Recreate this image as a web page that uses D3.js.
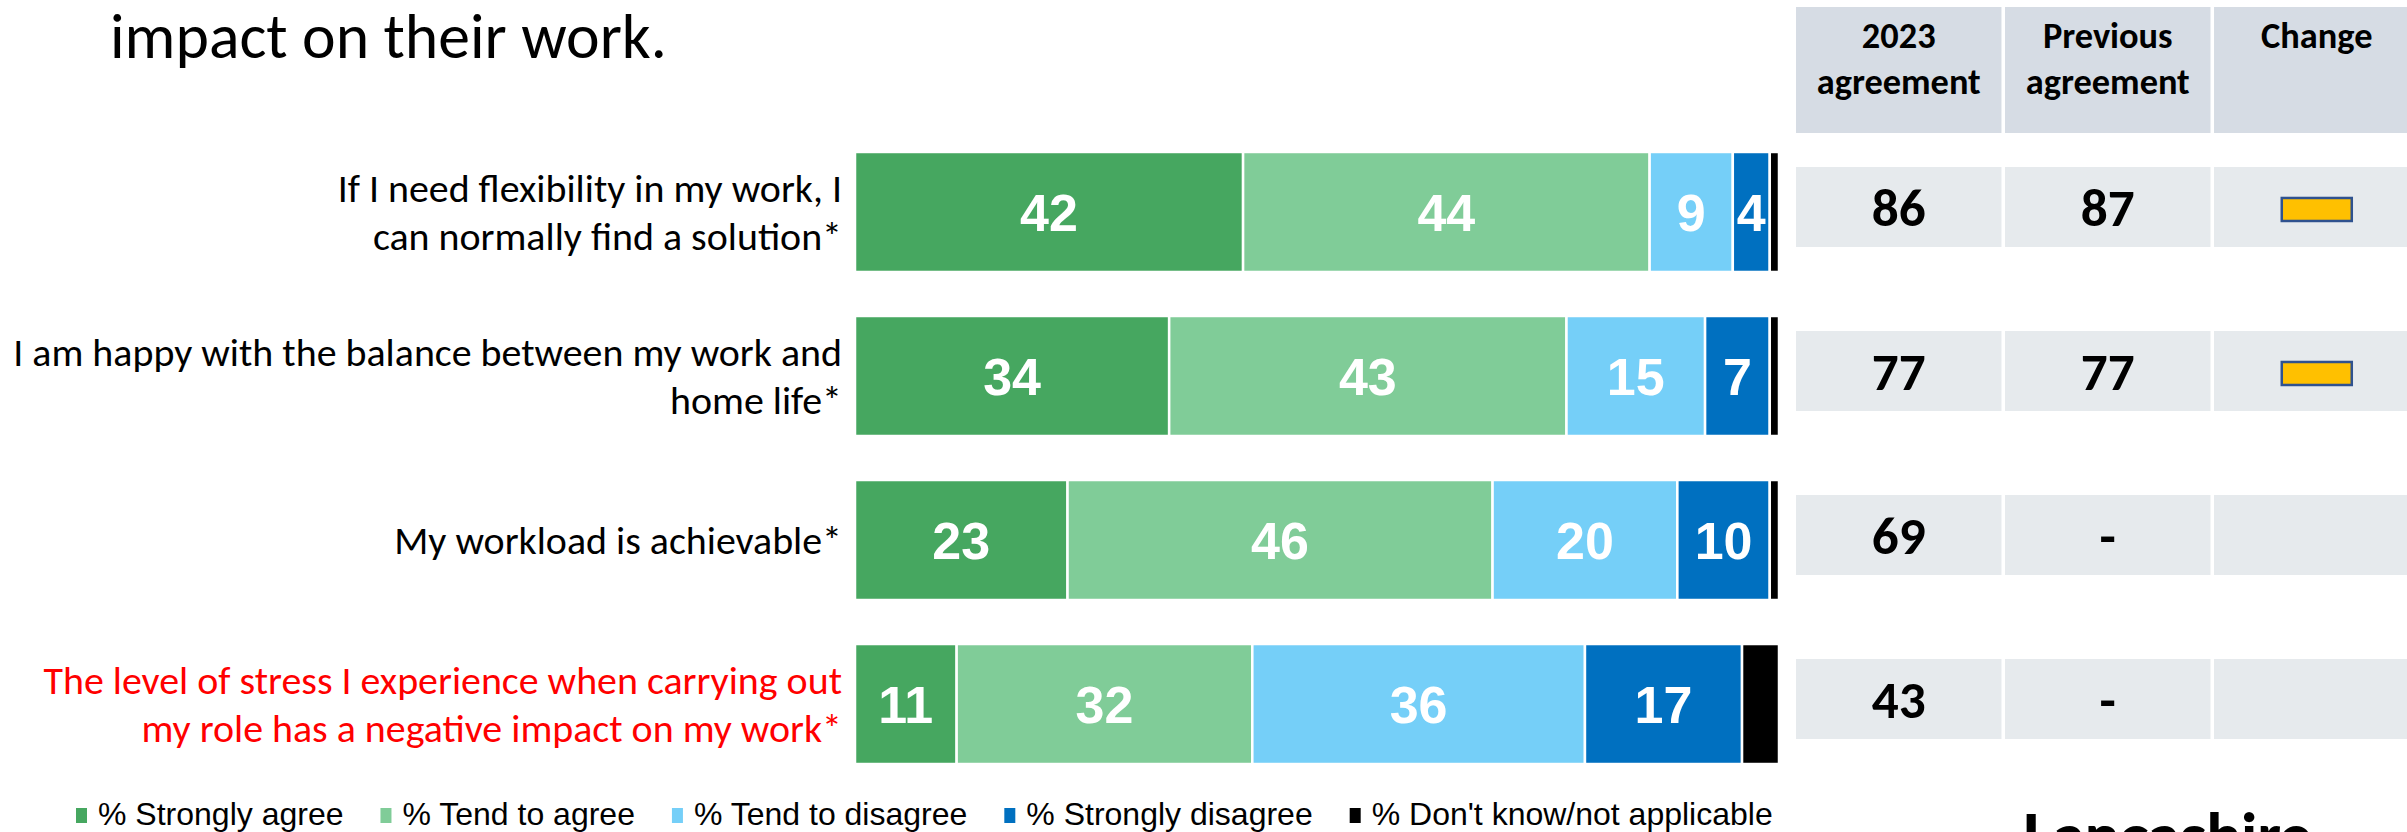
<!DOCTYPE html>
<html>
<head>
<meta charset="utf-8">
<script src="https://cdn.jsdelivr.net/npm/d3@7"></script>
<style>
  html, body { margin: 0; padding: 0; background: #ffffff; }
  svg { display: block; }
</style>
</head>
<body>
<svg id="chart" width="2407" height="832"></svg>
<script>
// ---- data ----
const statements = [
  ["If I need flexibility in my work, I", "can normally find a solution*"],
  ["I am happy with the balance between my work and", "home life*"],
  ["My workload is achievable*"],
  ["The level of stress I experience when carrying out", "my role has a negative impact on my work*"]
];
const highlighted = [false, false, false, true];

const seriesNames = ["% Strongly agree", "% Tend to agree", "% Tend to disagree", "% Strongly disagree", "% Don't know/not applicable"];
const stronglyAgree    = [42, 34, 23, 11];
const tendToAgree      = [44, 43, 46, 32];
const tendToDisagree   = [9, 15, 20, 36];
const stronglyDisagree = [4, 7, 10, 17];
const dontKnow         = [1, 1, 1, 4];

const tableHeaders = [["2023", "agreement"], ["Previous", "agreement"], ["Change"]];
const agreement2023 = [86, 77, 69, 43];
const agreementPrev = ["87", "77", "-", "-"];
const changeFlag    = ["none", "none", "", ""];   // "none" = no significant change marker

const titleLine = "impact on their work.";
const logoText = "Lancashire";

// ---- styles ----
const colors = ["#46a760", "#80cc98", "#75cff8", "#0070c0", "#000000"];
const CAL = "Carlito, Lato, 'Open Sans', sans-serif";
const ARIAL = "'Liberation Sans', Arial, sans-serif";

const svg = d3.select("#chart");
svg.append("rect").attr("width", 2407).attr("height", 832).attr("fill", "#fff");

// helper: font size that makes a string span a given width
function fitSize(txt, family, weight, target) {
  const t = svg.append("text").attr("font-family", family).attr("font-weight", weight)
    .attr("font-size", 100).text(txt);
  const w = t.node().getComputedTextLength();
  t.remove();
  return 100 * target / w;
}

const labelSize = fitSize(statements[1][0], CAL, 400, 829);
const titleSize = fitSize(titleLine, CAL, 400, 557);
const headSize  = fitSize("agreement", CAL, 700, 164);
const numSize   = fitSize("86", CAL, 700, 54);

// ---- scales ----
const rows = d3.range(statements.length);
const x = d3.scaleLinear().domain([0, 100]).range([855, 1779]);
const y = d3.scaleBand().domain(rows).range([130, 786]).paddingInner(0.2683).paddingOuter(0.134);
const col = d3.scaleBand().domain([0, 1, 2]).range([1796, 2419.5]).paddingInner(0.017);

// ---- title ----
svg.append("text")
  .attr("x", 110).attr("y", 58)
  .attr("font-family", CAL).attr("font-size", titleSize).attr("fill", "#000")
  .text(titleLine);

// ---- stacked bars ----
const seriesData = [stronglyAgree, tendToAgree, tendToDisagree, stronglyDisagree, dontKnow];
const table = rows.map(i => {
  const o = { row: i };
  seriesData.forEach((s, k) => o["s" + k] = s[i]);
  return o;
});
const keys = seriesData.map((s, k) => "s" + k);
const stacked = d3.stack().keys(keys)(table);

const layers = svg.append("g").selectAll("g")
  .data(stacked).join("g")
  .attr("fill", (d, k) => colors[k]);

layers.selectAll("rect")
  .data(d => d)
  .join("rect")
  .attr("x", d => x(d[0]))
  .attr("y", d => y(d.data.row))
  .attr("width", d => x(d[1]) - x(d[0]))
  .attr("height", y.bandwidth())
  .attr("stroke", "#fff")
  .attr("stroke-width", 2.5);

// value labels inside the first four segments
stacked.slice(0, 4).forEach((layer, k) => {
  svg.append("g").selectAll("text")
    .data(layer).join("text")
    .attr("x", d => (x(d[0]) + x(d[1])) / 2)
    .attr("y", d => y(d.data.row) + y.bandwidth() / 2 + 19)
    .attr("text-anchor", "middle")
    .attr("font-family", ARIAL).attr("font-weight", 700).attr("font-size", 52)
    .attr("fill", "#fff")
    .text(d => d[1] - d[0]);
});

// ---- statement labels ----
const lineGap = 48;
const labels = svg.append("g").selectAll("text")
  .data(rows).join("text")
  .attr("text-anchor", "end")
  .attr("font-family", CAL).attr("font-size", labelSize)
  .attr("fill", i => highlighted[i] ? "#ff0000" : "#000");

labels.each(function (i) {
  const lines = statements[i];
  const c = y(i) + y.bandwidth() / 2 + 5;
  const first = c - (lines.length - 1) * lineGap / 2 + 9;
  d3.select(this).selectAll("tspan")
    .data(lines).join("tspan")
    .attr("x", 842)
    .attr("y", (d, j) => first + j * lineGap)
    .text(d => d);
});

// ---- side table ----
const headTop = 7, headH = 126;
const tbl = svg.append("g");

tbl.selectAll("rect.head")
  .data(tableHeaders).join("rect")
  .attr("class", "head")
  .attr("x", (d, j) => col(j)).attr("y", headTop)
  .attr("width", col.bandwidth()).attr("height", headH)
  .attr("fill", "#d6dce4");

tbl.selectAll("text.head")
  .data(tableHeaders).join("text")
  .attr("class", "head")
  .attr("text-anchor", "middle")
  .attr("font-family", CAL).attr("font-weight", 700).attr("font-size", headSize)
  .attr("fill", "#000")
  .each(function (lines, j) {
    d3.select(this).selectAll("tspan")
      .data(lines).join("tspan")
      .attr("x", col(j) + col.bandwidth() / 2)
      .attr("y", (d, k) => 48 + k * 46)
      .text(d => d);
  });

const cellH = 80;
const cellTop = i => y(i) + 15;

rows.forEach(i => {
  const g = tbl.append("g");
  g.selectAll("rect")
    .data([0, 1, 2]).join("rect")
    .attr("x", j => col(j)).attr("y", cellTop(i))
    .attr("width", col.bandwidth()).attr("height", cellH)
    .attr("fill", "#e6eaed");

  const vals = [String(agreement2023[i]), agreementPrev[i]];
  g.selectAll("text")
    .data(vals).join("text")
    .attr("x", (d, j) => col(j) + col.bandwidth() / 2)
    .attr("y", cellTop(i) + cellH / 2 + 19)
    .attr("text-anchor", "middle")
    .attr("font-family", CAL).attr("font-weight", 700).attr("font-size", numSize)
    .attr("fill", "#000")
    .text(d => d);

  if (changeFlag[i] === "none") {
    g.append("rect")
      .attr("x", col(2) + col.bandwidth() / 2 - 35)
      .attr("y", cellTop(i) + cellH / 2 - 9)
      .attr("width", 70).attr("height", 23)
      .attr("fill", "#ffc000")
      .attr("stroke", "#2f528f").attr("stroke-width", 2.5);
  }
});

// ---- legend ----
const legend = svg.append("g");
let lx = 76;
seriesNames.forEach((name, k) => {
  legend.append("rect")
    .attr("x", lx).attr("y", 808).attr("width", 11).attr("height", 15)
    .attr("fill", colors[k]);
  const t = legend.append("text")
    .attr("x", lx + 22).attr("y", 825)
    .attr("font-family", ARIAL).attr("font-size", 32).attr("fill", "#000")
    .text(name);
  lx += 22 + t.node().getComputedTextLength() + 37;
});

// ---- logo wordmark (runs off the bottom edge) ----
const logoSize = fitSize(logoText, "Lato, 'Open Sans', sans-serif", 900, 290);
svg.append("text")
  .attr("x", 2022).attr("y", 814 + logoSize * 0.72)
  .attr("font-family", "Lato, 'Open Sans', sans-serif").attr("font-weight", 900)
  .attr("font-size", logoSize).attr("fill", "#000")
  .text(logoText);
</script>
</body>
</html>
